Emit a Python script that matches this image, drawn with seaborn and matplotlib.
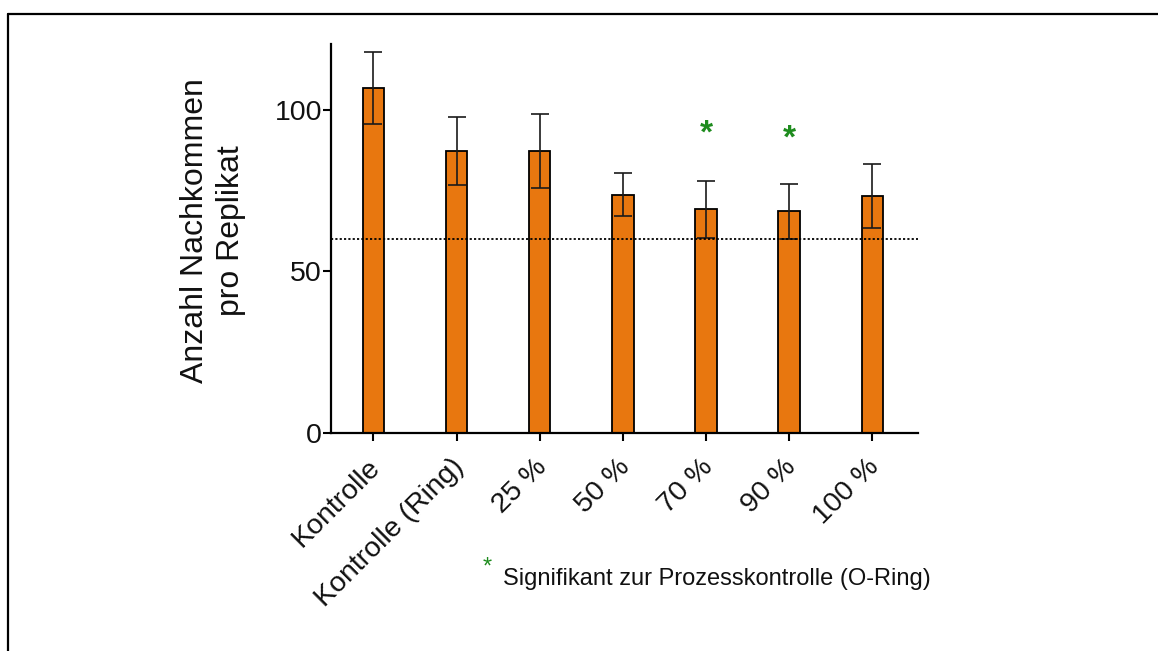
import matplotlib
matplotlib.use("Agg")
import matplotlib.pyplot as plt
from matplotlib.lines import Line2D
from matplotlib.transforms import ScaledTranslation
import seaborn as sns

# Offspring counts per replicate (mean and standard deviation)
categories = ["Kontrolle", "Kontrolle (Ring)", "25 %", "50 %", "70 %", "90 %", "100 %"]
means = [106.7, 87.3, 87.3, 73.8, 69.3, 68.6, 73.5]
sds = [11.1, 10.4, 11.5, 6.7, 8.8, 8.5, 9.9]
significant = ["70 %", "90 %"]
star_heights = [92.6, 91.0]
threshold = 60
y_ticks = [0, 50, 100]

sns.set_theme(style="ticks")
plt.rcParams["font.family"] = ["Liberation Sans", "DejaVu Sans"]

fig = plt.figure(figsize=(11.58, 6.51), dpi=100)
ax = fig.add_axes([0.2858, 0.3349, 0.507, 0.5975])

bar_color = "#E8770F"
sns.barplot(x=categories, y=means, color=bar_color, width=0.26,
            edgecolor="black", linewidth=1.3, saturation=1, ax=ax, zorder=2)

positions = range(len(categories))
ax.errorbar(positions, means, yerr=sds, fmt="none", ecolor="#1a1a1a",
            elinewidth=1.2, capsize=6.5, capthick=1.2, zorder=3)

ax.axhline(threshold, color="black", lw=1.3, ls=(0, (1.2, 1.2)), zorder=4)

for cat, h in zip(significant, star_heights):
    ax.text(categories.index(cat), h, "*", color="#1E8C1E", fontsize=24,
            ha="center", va="center", fontweight="bold")

ax.set_xlim(-0.51, 6.55)
ax.set_ylim(0, 120.4)
ax.set_yticks(y_ticks)
ax.set_xticks(list(positions))
ax.set_xticklabels(categories, rotation=45, ha="right", rotation_mode="anchor")
ax.tick_params(axis="both", labelsize=20.5, width=1.5, length=6, color="black",
               labelcolor="#111111", pad=4)
ax.tick_params(axis="y", pad=0.5)
shift = ScaledTranslation(-6 / 100, -7 / 100, fig.dpi_scale_trans)
for lbl in ax.get_xticklabels():
    lbl.set_transform(lbl.get_transform() + shift)

ax.set_xlabel("")
ax.set_ylabel("Anzahl Nachkommen\npro Replikat", fontsize=23,
              linespacing=1.25, color="#111111")
ax.yaxis.set_label_coords(-0.145, 0.52)
for side in ["top", "right"]:
    ax.spines[side].set_visible(False)
for side in ["left", "bottom"]:
    ax.spines[side].set_linewidth(1.6)
    ax.spines[side].set_color("black")

# Footnote explaining the asterisks
fig.text(487 / 1158, 1 - 568 / 651, "*", color="#1E8C1E", fontsize=17,
         ha="center", va="center")
fig.text(503 / 1158, 1 - 579 / 651, "Signifikant zur Prozesskontrolle (O-Ring)",
         fontsize=17, ha="left", va="center", color="#111111")

# Page frame
fig.add_artist(Line2D([8 / 1158, 1], [1 - 14 / 651, 1 - 14 / 651],
                      color="black", lw=1.6, transform=fig.transFigure))
fig.add_artist(Line2D([8 / 1158, 8 / 1158], [0, 1 - 14 / 651],
                      color="black", lw=1.6, transform=fig.transFigure))

fig.savefig("out.png", dpi=100, facecolor="white")
